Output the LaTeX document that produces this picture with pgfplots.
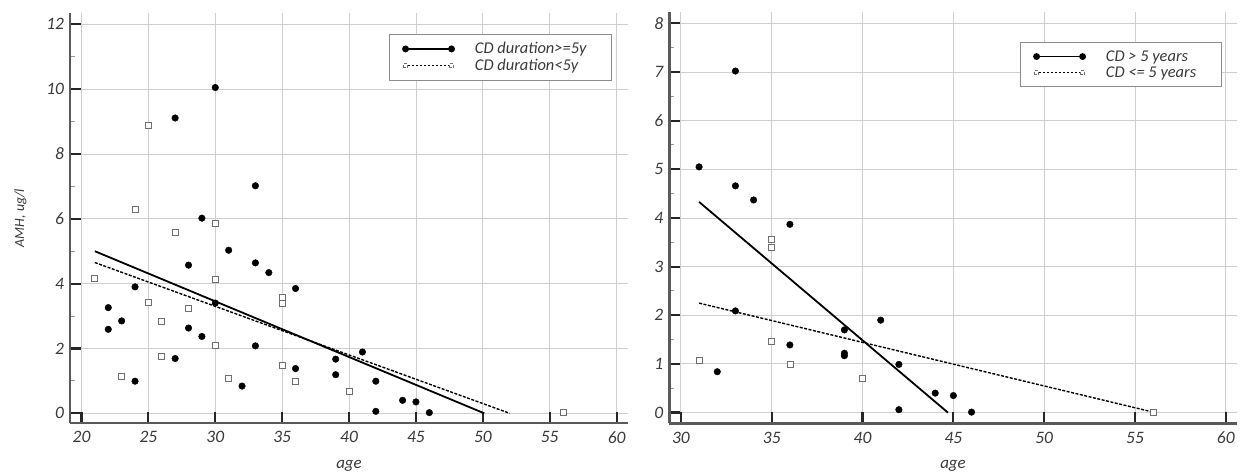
\documentclass[border=0pt]{standalone}
\usepackage{pgfplots}
\pgfplotsset{compat=1.18}
\usepackage{fontspec}
\setmainfont{Carlito}
\definecolor{txt}{HTML}{3A3A3A}
\definecolor{gridc}{HTML}{CFCFCF}
\definecolor{axc}{HTML}{5A5A5A}
\definecolor{sqc}{HTML}{6E6E6E}
\definecolor{legc}{HTML}{8C8C8C}

\pgfplotstableread{
x y
27 9.11
30 10.05
29 6.02
33 7.02
31 5.03
28 4.57
33 4.64
34 4.34
36 3.85
24 3.90
22 3.26
23 2.85
22 2.59
28 2.63
29 2.37
30 3.40
33 2.08
27 1.69
24 0.99
32 0.84
36 1.38
41 1.89
39 1.67
39 1.19
42 0.99
44 0.40
45 0.35
42 0.06
46 0.02
}\leftlong
\pgfplotstableread{
x y
25 8.87
24 6.29
30 5.87
27 5.58
21 4.16
30 4.13
25 3.42
28 3.25
26 2.82
30 2.10
26 1.77
23 1.14
31 1.07
35 3.56
35 3.38
35 1.48
36 0.99
40 0.68
56 0.02
}\leftshort
\pgfplotstableread{
x y
33 7.02
31 5.05
33 4.66
34 4.37
36 3.87
33 2.09
32 0.84
36 1.39
39 1.70
39 1.22
39 1.17
41 1.90
42 0.99
42 0.06
44 0.40
45 0.35
46 0.01
}\rightlong
\pgfplotstableread{
x y
31 1.08
35 3.55
35 3.40
35 1.46
36 0.99
40 0.71
56 0.01
}\rightshort

\pgfplotsset{
  mystyle/.style={
    scale only axis,
    axis x line*=bottom,
    axis y line*=left,
    axis line style={line width=2.4bp, color=axc},
    tick align=inside,
    major tick length=11bp,
    minor tick length=5bp,
    major tick style={line width=2.2bp, color=black!85},
    minor tick style={line width=1bp, color=black!40},
    grid=major,
    major grid style={line width=0.9bp, color=gridc},
    /pgf/number format/assume math mode=true,
    tick label style={font=\itshape\fontsize{17.5}{20}\selectfont, text=txt},
    xticklabel shift=5bp,
    yticklabel shift=2.5bp,
    xlabel style={font=\itshape\fontsize{17}{20}\selectfont, text=txt,
      at={(axis description cs:0.5,0)}, anchor=base, yshift=-45bp},
    ylabel style={font=\itshape\fontsize{14}{17}\selectfont, text=txt},
    legend cell align=left,
    legend style={draw=legc, line width=1bp, fill=white, inner xsep=13bp,
      inner ysep=8bp, row sep=4bp,
      /tikz/every odd column/.append style={column sep=20bp},
      nodes={inner sep=0bp, font=\itshape\fontsize{16.5}{19}\selectfont, text=txt}},
  },
  solidleg/.style={legend image code/.code={
    \draw[black, line width=1.6bp] (0bp,0bp) -- (46bp,0bp);
    \fill[black] (0bp,0bp) circle (2.5bp);
    \fill[black] (46bp,0bp) circle (2.5bp);}},
  dashleg/.style={legend image code/.code={
    \draw[black, line width=1.1bp, dash pattern=on 2.5bp off 1.5bp] (2bp,0bp) -- (44bp,0bp);
    \draw[sqc, line width=0.7bp, fill=white] (-2bp,-2bp) rectangle (2bp,2bp);
    \draw[sqc, line width=0.7bp, fill=white] (44bp,-2bp) rectangle (48bp,2bp);}},
}

\begin{document}
\begin{tikzpicture}
\useasboundingbox (0bp,0bp) rectangle (1240bp,474bp);
\fill[white] (0bp,0bp) rectangle (1240bp,474bp);

\begin{axis}[mystyle,
  at={(70bp,51bp)}, anchor=south west,
  width=558bp, height=410bp,
  xmin=19.14, xmax=60.85, ymin=-0.3, ymax=12.35,
  xtick={20,25,...,60}, ytick={0,2,...,12},
  minor y tick num=1,
  xlabel={age}, ylabel={AMH, ug/l},
  ylabel style={at={(axis description cs:-0.0824,0.5)}, anchor=base},
  legend style={at={(0.9713,0.9488)}, anchor=north east},
]
\addplot[only marks, mark=*, mark size=3.3bp, black, forget plot] table[x=x,y=y] {\leftlong};
\addplot[only marks, mark=square*, mark size=3bp, draw=sqc, fill=white, line width=0.8bp, forget plot] table[x=x,y=y] {\leftshort};
\addplot[black, line width=1.8bp, solidleg] coordinates {(21,5.0) (50.1,0.0)};
\addlegendentry{CD duration>=5y\hspace*{12bp}}
\addplot[black, line width=1.4bp, dash pattern=on 3bp off 1.5bp, dashleg] coordinates {(21,4.65) (52,0.0)};
\addlegendentry{CD duration<5y\hspace*{12bp}}
\end{axis}

\begin{axis}[mystyle,
  at={(669.3bp,50.7bp)}, anchor=south west,
  width=567.4bp, height=411.6bp,
  xmin=29.36, xmax=60.6, ymin=-0.22, ymax=8.24,
  xtick={30,35,...,60}, ytick={0,1,...,8},
  minor y tick num=1,
  xlabel={age},
  legend style={at={(0.9736,0.9264)}, anchor=north east},
]
\addplot[only marks, mark=*, mark size=3.3bp, black, forget plot] table[x=x,y=y] {\rightlong};
\addplot[only marks, mark=square*, mark size=3bp, draw=sqc, fill=white, line width=0.8bp, forget plot] table[x=x,y=y] {\rightshort};
\addplot[black, line width=1.8bp, solidleg] coordinates {(31,4.33) (44.7,0.0)};
\addlegendentry{CD > 5 years\hspace*{12bp}}
\addplot[black, line width=1.4bp, dash pattern=on 3bp off 1.5bp, dashleg] coordinates {(31,2.25) (56,0.01)};
\addlegendentry{CD <= 5 years\hspace*{12bp}}
\end{axis}
\end{tikzpicture}
\end{document}
